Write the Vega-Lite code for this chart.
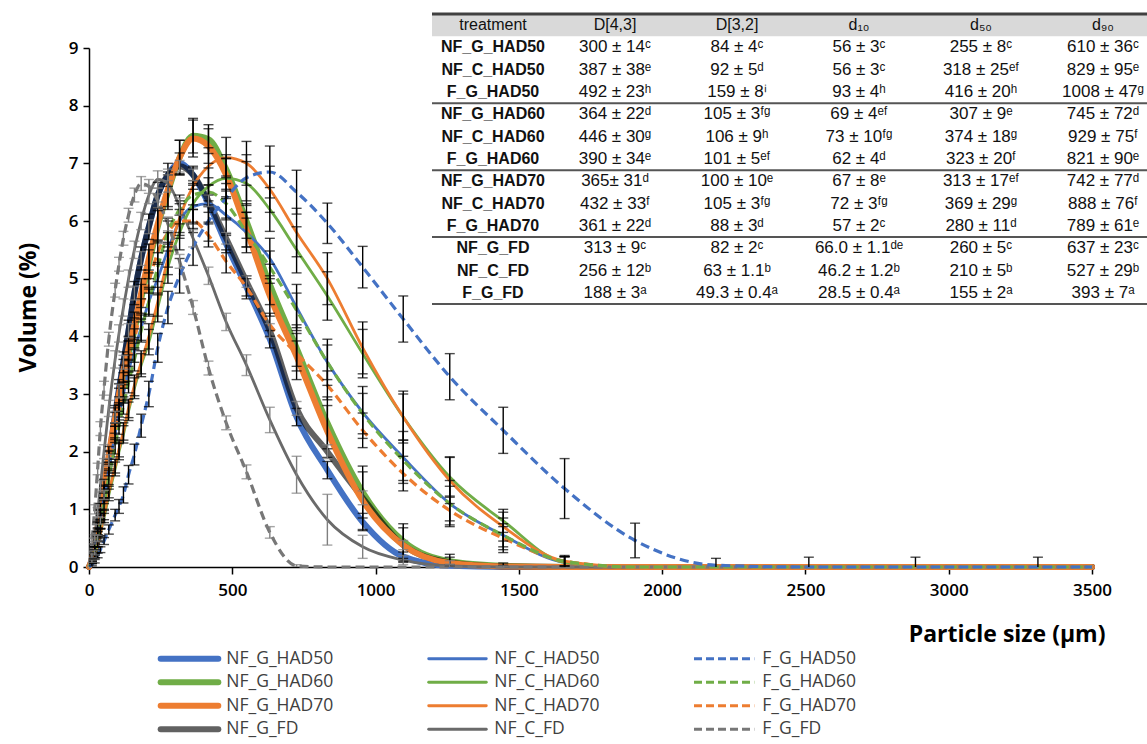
{
"$schema": "https://vega.github.io/schema/vega-lite/v6.json",
"autosize": {"type": "none"},
"width": 1003,
"height": 519,
"padding": {"left": 89, "top": 48, "right": 55, "bottom": 177},
"background": "white",
"config": {"view": {"stroke": null}, "axis": {"grid": false}, "font": "Open Sans"},
"datasets": {
"curves": [
{"s":"NF_G_HAD60","x":0,"y":0,"e":0},{"s":"NF_G_HAD60","x":10,"y":0.12,"e":0.03},{"s":"NF_G_HAD60","x":20,"y":0.3,"e":0.05},{"s":"NF_G_HAD60","x":30.2,"y":0.6,"e":0.08},{"s":"NF_G_HAD60","x":39.8,"y":0.9,"e":0.1},{"s":"NF_G_HAD60","x":52.5,"y":1.3,"e":0.12},{"s":"NF_G_HAD60","x":69.2,"y":1.85,"e":0.15},{"s":"NF_G_HAD60","x":91.2,"y":2.5,"e":0.18},{"s":"NF_G_HAD60","x":104.7,"y":2.9,"e":0.2},{"s":"NF_G_HAD60","x":120.2,"y":3.3,"e":0.2},{"s":"NF_G_HAD60","x":138,"y":3.7,"e":0.22},{"s":"NF_G_HAD60","x":158.5,"y":4.1,"e":0.22},{"s":"NF_G_HAD60","x":182,"y":4.65,"e":0.25},{"s":"NF_G_HAD60","x":208.9,"y":5.25,"e":0.25},{"s":"NF_G_HAD60","x":239.9,"y":5.9,"e":0.28},{"s":"NF_G_HAD60","x":275.4,"y":6.5,"e":0.3},{"s":"NF_G_HAD60","x":316.2,"y":7.1,"e":0.3},{"s":"NF_G_HAD60","x":363.1,"y":7.48,"e":0.3},{"s":"NF_G_HAD60","x":416.9,"y":7.42,"e":0.25},{"s":"NF_G_HAD60","x":478.6,"y":6.9,"e":0.25},{"s":"NF_G_HAD60","x":549.5,"y":6.0,"e":0.3},{"s":"NF_G_HAD60","x":631,"y":4.9,"e":0.35},{"s":"NF_G_HAD60","x":724.4,"y":3.8,"e":0.4},{"s":"NF_G_HAD60","x":831.8,"y":2.5,"e":0.45},{"s":"NF_G_HAD60","x":955,"y":1.3,"e":0.45},{"s":"NF_G_HAD60","x":1096.5,"y":0.45,"e":0.3},{"s":"NF_G_HAD60","x":1258.9,"y":0.1,"e":0.12},{"s":"NF_G_HAD60","x":1445.4,"y":0.02,"e":0.05},{"s":"NF_G_HAD60","x":1659.6,"y":0,"e":0},{"s":"NF_G_HAD60","x":3500,"y":0,"e":0},
{"s":"NF_G_HAD50","x":0,"y":0,"e":0},{"s":"NF_G_HAD50","x":10,"y":0.1,"e":0.02},{"s":"NF_G_HAD50","x":20,"y":0.25,"e":0.04},{"s":"NF_G_HAD50","x":30.2,"y":0.5,"e":0.06},{"s":"NF_G_HAD50","x":39.8,"y":0.85,"e":0.08},{"s":"NF_G_HAD50","x":52.5,"y":1.3,"e":0.1},{"s":"NF_G_HAD50","x":69.2,"y":1.9,"e":0.12},{"s":"NF_G_HAD50","x":91.2,"y":2.65,"e":0.15},{"s":"NF_G_HAD50","x":104.7,"y":3.1,"e":0.15},{"s":"NF_G_HAD50","x":120.2,"y":3.55,"e":0.18},{"s":"NF_G_HAD50","x":138,"y":4.1,"e":0.18},{"s":"NF_G_HAD50","x":158.5,"y":4.75,"e":0.2},{"s":"NF_G_HAD50","x":182,"y":5.35,"e":0.2},{"s":"NF_G_HAD50","x":208.9,"y":5.9,"e":0.22},{"s":"NF_G_HAD50","x":239.9,"y":6.45,"e":0.22},{"s":"NF_G_HAD50","x":275.4,"y":6.8,"e":0.2},{"s":"NF_G_HAD50","x":316.2,"y":7.0,"e":0.18},{"s":"NF_G_HAD50","x":363.1,"y":6.8,"e":0.15},{"s":"NF_G_HAD50","x":416.9,"y":6.3,"e":0.15},{"s":"NF_G_HAD50","x":478.6,"y":5.6,"e":0.15},{"s":"NF_G_HAD50","x":549.5,"y":4.85,"e":0.15},{"s":"NF_G_HAD50","x":631,"y":3.95,"e":0.15},{"s":"NF_G_HAD50","x":724.4,"y":2.6,"e":0.15},{"s":"NF_G_HAD50","x":831.8,"y":1.68,"e":0.15},{"s":"NF_G_HAD50","x":955,"y":0.78,"e":0.15},{"s":"NF_G_HAD50","x":1096.5,"y":0.18,"e":0.08},{"s":"NF_G_HAD50","x":1258.9,"y":0.02,"e":0.02},{"s":"NF_G_HAD50","x":1445.4,"y":0,"e":0},{"s":"NF_G_HAD50","x":3500,"y":0,"e":0},
{"s":"NF_G_FD","x":0,"y":0,"e":0},{"s":"NF_G_FD","x":10,"y":0.1,"e":0.02},{"s":"NF_G_FD","x":20,"y":0.25,"e":0.04},{"s":"NF_G_FD","x":30.2,"y":0.5,"e":0.05},{"s":"NF_G_FD","x":39.8,"y":0.8,"e":0.06},{"s":"NF_G_FD","x":52.5,"y":1.25,"e":0.08},{"s":"NF_G_FD","x":69.2,"y":1.85,"e":0.1},{"s":"NF_G_FD","x":91.2,"y":2.6,"e":0.1},{"s":"NF_G_FD","x":104.7,"y":3.05,"e":0.12},{"s":"NF_G_FD","x":120.2,"y":3.55,"e":0.12},{"s":"NF_G_FD","x":138,"y":4.1,"e":0.12},{"s":"NF_G_FD","x":158.5,"y":4.75,"e":0.12},{"s":"NF_G_FD","x":182,"y":5.35,"e":0.12},{"s":"NF_G_FD","x":208.9,"y":5.9,"e":0.12},{"s":"NF_G_FD","x":239.9,"y":6.45,"e":0.12},{"s":"NF_G_FD","x":275.4,"y":6.8,"e":0.1},{"s":"NF_G_FD","x":316.2,"y":6.95,"e":0.1},{"s":"NF_G_FD","x":363.1,"y":6.8,"e":0.1},{"s":"NF_G_FD","x":416.9,"y":6.35,"e":0.1},{"s":"NF_G_FD","x":478.6,"y":5.7,"e":0.1},{"s":"NF_G_FD","x":549.5,"y":4.95,"e":0.1},{"s":"NF_G_FD","x":631,"y":4.1,"e":0.12},{"s":"NF_G_FD","x":724.4,"y":2.75,"e":0.12},{"s":"NF_G_FD","x":831.8,"y":2.0,"e":0.12},{"s":"NF_G_FD","x":955,"y":1.2,"e":0.12},{"s":"NF_G_FD","x":1096.5,"y":0.38,"e":0.08},{"s":"NF_G_FD","x":1258.9,"y":0.08,"e":0.03},{"s":"NF_G_FD","x":1445.4,"y":0.01,"e":0.01},{"s":"NF_G_FD","x":1659.6,"y":0,"e":0},{"s":"NF_G_FD","x":3500,"y":0,"e":0},
{"s":"NF_G_HAD70","x":0,"y":0,"e":0},{"s":"NF_G_HAD70","x":10,"y":0.14,"e":0.03},{"s":"NF_G_HAD70","x":20,"y":0.35,"e":0.05},{"s":"NF_G_HAD70","x":30.2,"y":0.7,"e":0.08},{"s":"NF_G_HAD70","x":39.8,"y":1.0,"e":0.1},{"s":"NF_G_HAD70","x":52.5,"y":1.4,"e":0.12},{"s":"NF_G_HAD70","x":69.2,"y":1.95,"e":0.14},{"s":"NF_G_HAD70","x":91.2,"y":2.6,"e":0.16},{"s":"NF_G_HAD70","x":104.7,"y":3.0,"e":0.18},{"s":"NF_G_HAD70","x":120.2,"y":3.4,"e":0.2},{"s":"NF_G_HAD70","x":138,"y":3.8,"e":0.2},{"s":"NF_G_HAD70","x":158.5,"y":4.2,"e":0.22},{"s":"NF_G_HAD70","x":182,"y":4.75,"e":0.25},{"s":"NF_G_HAD70","x":208.9,"y":5.35,"e":0.25},{"s":"NF_G_HAD70","x":239.9,"y":5.95,"e":0.28},{"s":"NF_G_HAD70","x":275.4,"y":6.55,"e":0.3},{"s":"NF_G_HAD70","x":316.2,"y":7.1,"e":0.3},{"s":"NF_G_HAD70","x":363.1,"y":7.43,"e":0.32},{"s":"NF_G_HAD70","x":416.9,"y":7.3,"e":0.3},{"s":"NF_G_HAD70","x":478.6,"y":6.8,"e":0.28},{"s":"NF_G_HAD70","x":549.5,"y":5.85,"e":0.3},{"s":"NF_G_HAD70","x":631,"y":4.7,"e":0.35},{"s":"NF_G_HAD70","x":724.4,"y":3.65,"e":0.4},{"s":"NF_G_HAD70","x":831.8,"y":2.35,"e":0.45},{"s":"NF_G_HAD70","x":955,"y":1.15,"e":0.5},{"s":"NF_G_HAD70","x":1096.5,"y":0.38,"e":0.3},{"s":"NF_G_HAD70","x":1258.9,"y":0.07,"e":0.1},{"s":"NF_G_HAD70","x":1445.4,"y":0.01,"e":0.02},{"s":"NF_G_HAD70","x":1659.6,"y":0,"e":0},{"s":"NF_G_HAD70","x":3500,"y":0,"e":0},
{"s":"NF_C_FD","x":0,"y":0,"e":0},{"s":"NF_C_FD","x":10,"y":0.2,"e":0.04},{"s":"NF_C_FD","x":20,"y":0.5,"e":0.06},{"s":"NF_C_FD","x":30.2,"y":0.95,"e":0.08},{"s":"NF_C_FD","x":39.8,"y":1.4,"e":0.1},{"s":"NF_C_FD","x":52.5,"y":2.0,"e":0.12},{"s":"NF_C_FD","x":69.2,"y":2.75,"e":0.14},{"s":"NF_C_FD","x":91.2,"y":3.6,"e":0.15},{"s":"NF_C_FD","x":104.7,"y":4.05,"e":0.15},{"s":"NF_C_FD","x":120.2,"y":4.5,"e":0.15},{"s":"NF_C_FD","x":138,"y":5.0,"e":0.15},{"s":"NF_C_FD","x":158.5,"y":5.5,"e":0.15},{"s":"NF_C_FD","x":182,"y":6.0,"e":0.15},{"s":"NF_C_FD","x":208.9,"y":6.45,"e":0.15},{"s":"NF_C_FD","x":239.9,"y":6.72,"e":0.15},{"s":"NF_C_FD","x":275.4,"y":6.65,"e":0.15},{"s":"NF_C_FD","x":316.2,"y":6.25,"e":0.15},{"s":"NF_C_FD","x":363.1,"y":5.7,"e":0.15},{"s":"NF_C_FD","x":416.9,"y":5.05,"e":0.15},{"s":"NF_C_FD","x":478.6,"y":4.25,"e":0.15},{"s":"NF_C_FD","x":549.5,"y":3.5,"e":0.18},{"s":"NF_C_FD","x":631,"y":2.55,"e":0.22},{"s":"NF_C_FD","x":724.4,"y":1.6,"e":0.32},{"s":"NF_C_FD","x":831.8,"y":0.82,"e":0.44},{"s":"NF_C_FD","x":955,"y":0.35,"e":0.2},{"s":"NF_C_FD","x":1096.5,"y":0.12,"e":0.08},{"s":"NF_C_FD","x":1258.9,"y":0.02,"e":0.02},{"s":"NF_C_FD","x":1445.4,"y":0,"e":0},{"s":"NF_C_FD","x":3500,"y":0,"e":0},
{"s":"NF_C_HAD50","x":0,"y":0,"e":0},{"s":"NF_C_HAD50","x":10,"y":0.12,"e":0.03},{"s":"NF_C_HAD50","x":20,"y":0.3,"e":0.05},{"s":"NF_C_HAD50","x":30.2,"y":0.55,"e":0.06},{"s":"NF_C_HAD50","x":39.8,"y":0.85,"e":0.08},{"s":"NF_C_HAD50","x":52.5,"y":1.2,"e":0.1},{"s":"NF_C_HAD50","x":69.2,"y":1.7,"e":0.12},{"s":"NF_C_HAD50","x":91.2,"y":2.3,"e":0.14},{"s":"NF_C_HAD50","x":104.7,"y":2.65,"e":0.15},{"s":"NF_C_HAD50","x":120.2,"y":3.0,"e":0.16},{"s":"NF_C_HAD50","x":138,"y":3.4,"e":0.18},{"s":"NF_C_HAD50","x":158.5,"y":3.75,"e":0.2},{"s":"NF_C_HAD50","x":182,"y":4.15,"e":0.22},{"s":"NF_C_HAD50","x":208.9,"y":4.6,"e":0.25},{"s":"NF_C_HAD50","x":239.9,"y":5.0,"e":0.28},{"s":"NF_C_HAD50","x":275.4,"y":5.5,"e":0.3},{"s":"NF_C_HAD50","x":316.2,"y":6.0,"e":0.3},{"s":"NF_C_HAD50","x":363.1,"y":6.25,"e":0.3},{"s":"NF_C_HAD50","x":416.9,"y":6.3,"e":0.32},{"s":"NF_C_HAD50","x":478.6,"y":6.1,"e":0.32},{"s":"NF_C_HAD50","x":549.5,"y":5.8,"e":0.35},{"s":"NF_C_HAD50","x":631,"y":5.35,"e":0.35},{"s":"NF_C_HAD50","x":724.4,"y":4.5,"e":0.4},{"s":"NF_C_HAD50","x":831.8,"y":3.55,"e":0.4},{"s":"NF_C_HAD50","x":955,"y":2.68,"e":0.45},{"s":"NF_C_HAD50","x":1096.5,"y":1.9,"e":0.45},{"s":"NF_C_HAD50","x":1258.9,"y":1.1,"e":0.4},{"s":"NF_C_HAD50","x":1445.4,"y":0.55,"e":0.3},{"s":"NF_C_HAD50","x":1659.6,"y":0.08,"e":0.1},{"s":"NF_C_HAD50","x":1905.5,"y":0,"e":0},{"s":"NF_C_HAD50","x":3500,"y":0,"e":0},
{"s":"NF_C_HAD60","x":0,"y":0,"e":0},{"s":"NF_C_HAD60","x":10,"y":0.08,"e":0.02},{"s":"NF_C_HAD60","x":20,"y":0.2,"e":0.04},{"s":"NF_C_HAD60","x":30.2,"y":0.4,"e":0.05},{"s":"NF_C_HAD60","x":39.8,"y":0.6,"e":0.06},{"s":"NF_C_HAD60","x":52.5,"y":0.85,"e":0.08},{"s":"NF_C_HAD60","x":69.2,"y":1.25,"e":0.1},{"s":"NF_C_HAD60","x":91.2,"y":1.7,"e":0.12},{"s":"NF_C_HAD60","x":104.7,"y":2.0,"e":0.14},{"s":"NF_C_HAD60","x":120.2,"y":2.3,"e":0.15},{"s":"NF_C_HAD60","x":138,"y":2.7,"e":0.16},{"s":"NF_C_HAD60","x":158.5,"y":3.1,"e":0.18},{"s":"NF_C_HAD60","x":182,"y":3.5,"e":0.2},{"s":"NF_C_HAD60","x":208.9,"y":3.9,"e":0.22},{"s":"NF_C_HAD60","x":239.9,"y":4.5,"e":0.25},{"s":"NF_C_HAD60","x":275.4,"y":5.2,"e":0.28},{"s":"NF_C_HAD60","x":316.2,"y":5.8,"e":0.3},{"s":"NF_C_HAD60","x":363.1,"y":6.3,"e":0.32},{"s":"NF_C_HAD60","x":416.9,"y":6.6,"e":0.32},{"s":"NF_C_HAD60","x":478.6,"y":6.74,"e":0.35},{"s":"NF_C_HAD60","x":549.5,"y":6.65,"e":0.38},{"s":"NF_C_HAD60","x":631,"y":6.2,"e":0.38},{"s":"NF_C_HAD60","x":724.4,"y":5.5,"e":0.4},{"s":"NF_C_HAD60","x":831.8,"y":4.7,"e":0.42},{"s":"NF_C_HAD60","x":955,"y":3.7,"e":0.42},{"s":"NF_C_HAD60","x":1096.5,"y":2.6,"e":0.4},{"s":"NF_C_HAD60","x":1258.9,"y":1.56,"e":0.35},{"s":"NF_C_HAD60","x":1445.4,"y":0.8,"e":0.2},{"s":"NF_C_HAD60","x":1659.6,"y":0.08,"e":0.1},{"s":"NF_C_HAD60","x":1905.5,"y":0,"e":0},{"s":"NF_C_HAD60","x":3500,"y":0,"e":0},
{"s":"NF_C_HAD70","x":0,"y":0,"e":0},{"s":"NF_C_HAD70","x":10,"y":0.08,"e":0.02},{"s":"NF_C_HAD70","x":20,"y":0.2,"e":0.04},{"s":"NF_C_HAD70","x":30.2,"y":0.4,"e":0.05},{"s":"NF_C_HAD70","x":39.8,"y":0.6,"e":0.06},{"s":"NF_C_HAD70","x":52.5,"y":0.9,"e":0.08},{"s":"NF_C_HAD70","x":69.2,"y":1.3,"e":0.1},{"s":"NF_C_HAD70","x":91.2,"y":1.75,"e":0.12},{"s":"NF_C_HAD70","x":104.7,"y":2.05,"e":0.14},{"s":"NF_C_HAD70","x":120.2,"y":2.35,"e":0.15},{"s":"NF_C_HAD70","x":138,"y":2.75,"e":0.16},{"s":"NF_C_HAD70","x":158.5,"y":3.15,"e":0.18},{"s":"NF_C_HAD70","x":182,"y":3.55,"e":0.2},{"s":"NF_C_HAD70","x":208.9,"y":4.0,"e":0.22},{"s":"NF_C_HAD70","x":239.9,"y":4.6,"e":0.25},{"s":"NF_C_HAD70","x":275.4,"y":5.35,"e":0.28},{"s":"NF_C_HAD70","x":316.2,"y":6.05,"e":0.3},{"s":"NF_C_HAD70","x":363.1,"y":6.6,"e":0.32},{"s":"NF_C_HAD70","x":416.9,"y":6.95,"e":0.32},{"s":"NF_C_HAD70","x":478.6,"y":7.1,"e":0.35},{"s":"NF_C_HAD70","x":549.5,"y":7.0,"e":0.38},{"s":"NF_C_HAD70","x":631,"y":6.55,"e":0.4},{"s":"NF_C_HAD70","x":724.4,"y":5.8,"e":0.42},{"s":"NF_C_HAD70","x":831.8,"y":5.0,"e":0.45},{"s":"NF_C_HAD70","x":955,"y":3.8,"e":0.45},{"s":"NF_C_HAD70","x":1096.5,"y":2.6,"e":0.45},{"s":"NF_C_HAD70","x":1258.9,"y":1.5,"e":0.4},{"s":"NF_C_HAD70","x":1445.4,"y":0.7,"e":0.25},{"s":"NF_C_HAD70","x":1659.6,"y":0.1,"e":0.1},{"s":"NF_C_HAD70","x":1905.5,"y":0,"e":0},{"s":"NF_C_HAD70","x":3500,"y":0,"e":0},
{"s":"F_G_FD","x":0,"y":0,"e":0},{"s":"F_G_FD","x":10,"y":0.45,"e":0.05},{"s":"F_G_FD","x":20,"y":1.0,"e":0.08},{"s":"F_G_FD","x":30.2,"y":1.7,"e":0.1},{"s":"F_G_FD","x":39.8,"y":2.4,"e":0.12},{"s":"F_G_FD","x":52.5,"y":3.1,"e":0.12},{"s":"F_G_FD","x":69.2,"y":3.95,"e":0.12},{"s":"F_G_FD","x":91.2,"y":4.8,"e":0.12},{"s":"F_G_FD","x":104.7,"y":5.25,"e":0.12},{"s":"F_G_FD","x":120.2,"y":5.7,"e":0.12},{"s":"F_G_FD","x":138,"y":6.1,"e":0.12},{"s":"F_G_FD","x":158.5,"y":6.45,"e":0.12},{"s":"F_G_FD","x":182,"y":6.65,"e":0.12},{"s":"F_G_FD","x":208.9,"y":6.6,"e":0.12},{"s":"F_G_FD","x":239.9,"y":6.35,"e":0.12},{"s":"F_G_FD","x":275.4,"y":5.95,"e":0.12},{"s":"F_G_FD","x":316.2,"y":5.3,"e":0.12},{"s":"F_G_FD","x":363.1,"y":4.5,"e":0.12},{"s":"F_G_FD","x":416.9,"y":3.45,"e":0.12},{"s":"F_G_FD","x":478.6,"y":2.5,"e":0.12},{"s":"F_G_FD","x":549.5,"y":1.65,"e":0.12},{"s":"F_G_FD","x":631,"y":0.6,"e":0.1},{"s":"F_G_FD","x":724.4,"y":0.02,"e":0.02},{"s":"F_G_FD","x":831.8,"y":0,"e":0},{"s":"F_G_FD","x":3500,"y":0,"e":0},
{"s":"F_G_HAD70","x":0,"y":0,"e":0},{"s":"F_G_HAD70","x":10,"y":0.12,"e":0.03},{"s":"F_G_HAD70","x":20,"y":0.3,"e":0.05},{"s":"F_G_HAD70","x":30.2,"y":0.6,"e":0.06},{"s":"F_G_HAD70","x":39.8,"y":0.9,"e":0.08},{"s":"F_G_HAD70","x":52.5,"y":1.25,"e":0.1},{"s":"F_G_HAD70","x":69.2,"y":1.75,"e":0.12},{"s":"F_G_HAD70","x":91.2,"y":2.35,"e":0.14},{"s":"F_G_HAD70","x":104.7,"y":2.7,"e":0.15},{"s":"F_G_HAD70","x":120.2,"y":3.05,"e":0.16},{"s":"F_G_HAD70","x":138,"y":3.5,"e":0.18},{"s":"F_G_HAD70","x":158.5,"y":3.95,"e":0.18},{"s":"F_G_HAD70","x":182,"y":4.45,"e":0.2},{"s":"F_G_HAD70","x":208.9,"y":4.95,"e":0.2},{"s":"F_G_HAD70","x":239.9,"y":5.45,"e":0.2},{"s":"F_G_HAD70","x":275.4,"y":5.8,"e":0.2},{"s":"F_G_HAD70","x":316.2,"y":6.0,"e":0.2},{"s":"F_G_HAD70","x":363.1,"y":6.0,"e":0.2},{"s":"F_G_HAD70","x":416.9,"y":5.75,"e":0.2},{"s":"F_G_HAD70","x":478.6,"y":5.3,"e":0.2},{"s":"F_G_HAD70","x":549.5,"y":4.85,"e":0.2},{"s":"F_G_HAD70","x":631,"y":4.2,"e":0.2},{"s":"F_G_HAD70","x":724.4,"y":3.7,"e":0.22},{"s":"F_G_HAD70","x":831.8,"y":3.15,"e":0.25},{"s":"F_G_HAD70","x":955,"y":2.37,"e":0.3},{"s":"F_G_HAD70","x":1096.5,"y":1.62,"e":0.3},{"s":"F_G_HAD70","x":1258.9,"y":0.98,"e":0.25},{"s":"F_G_HAD70","x":1445.4,"y":0.5,"e":0.2},{"s":"F_G_HAD70","x":1659.6,"y":0.1,"e":0.08},{"s":"F_G_HAD70","x":1905.5,"y":0,"e":0},{"s":"F_G_HAD70","x":3500,"y":0,"e":0},
{"s":"F_G_HAD60","x":0,"y":0,"e":0},{"s":"F_G_HAD60","x":10,"y":0.1,"e":0.03},{"s":"F_G_HAD60","x":20,"y":0.25,"e":0.05},{"s":"F_G_HAD60","x":30.2,"y":0.5,"e":0.06},{"s":"F_G_HAD60","x":39.8,"y":0.75,"e":0.08},{"s":"F_G_HAD60","x":52.5,"y":1.1,"e":0.1},{"s":"F_G_HAD60","x":69.2,"y":1.55,"e":0.12},{"s":"F_G_HAD60","x":91.2,"y":2.1,"e":0.14},{"s":"F_G_HAD60","x":104.7,"y":2.45,"e":0.15},{"s":"F_G_HAD60","x":120.2,"y":2.8,"e":0.15},{"s":"F_G_HAD60","x":138,"y":3.2,"e":0.18},{"s":"F_G_HAD60","x":158.5,"y":3.6,"e":0.2},{"s":"F_G_HAD60","x":182,"y":4.1,"e":0.2},{"s":"F_G_HAD60","x":208.9,"y":4.6,"e":0.22},{"s":"F_G_HAD60","x":239.9,"y":5.2,"e":0.25},{"s":"F_G_HAD60","x":275.4,"y":5.8,"e":0.25},{"s":"F_G_HAD60","x":316.2,"y":6.2,"e":0.25},{"s":"F_G_HAD60","x":363.1,"y":6.45,"e":0.25},{"s":"F_G_HAD60","x":416.9,"y":6.5,"e":0.25},{"s":"F_G_HAD60","x":478.6,"y":6.3,"e":0.25},{"s":"F_G_HAD60","x":549.5,"y":5.8,"e":0.25},{"s":"F_G_HAD60","x":631,"y":5.2,"e":0.28},{"s":"F_G_HAD60","x":724.4,"y":4.45,"e":0.3},{"s":"F_G_HAD60","x":831.8,"y":3.55,"e":0.3},{"s":"F_G_HAD60","x":955,"y":2.66,"e":0.35},{"s":"F_G_HAD60","x":1096.5,"y":1.85,"e":0.35},{"s":"F_G_HAD60","x":1258.9,"y":1.1,"e":0.3},{"s":"F_G_HAD60","x":1445.4,"y":0.55,"e":0.2},{"s":"F_G_HAD60","x":1659.6,"y":0.1,"e":0.08},{"s":"F_G_HAD60","x":1905.5,"y":0,"e":0},{"s":"F_G_HAD60","x":3500,"y":0,"e":0},
{"s":"F_G_HAD50","x":0,"y":0,"e":0},{"s":"F_G_HAD50","x":10,"y":0.04,"e":0.02},{"s":"F_G_HAD50","x":20,"y":0.1,"e":0.03},{"s":"F_G_HAD50","x":30.2,"y":0.2,"e":0.04},{"s":"F_G_HAD50","x":39.8,"y":0.3,"e":0.05},{"s":"F_G_HAD50","x":52.5,"y":0.45,"e":0.06},{"s":"F_G_HAD50","x":69.2,"y":0.65,"e":0.08},{"s":"F_G_HAD50","x":91.2,"y":0.9,"e":0.1},{"s":"F_G_HAD50","x":104.7,"y":1.05,"e":0.12},{"s":"F_G_HAD50","x":120.2,"y":1.25,"e":0.14},{"s":"F_G_HAD50","x":138,"y":1.6,"e":0.16},{"s":"F_G_HAD50","x":158.5,"y":1.95,"e":0.18},{"s":"F_G_HAD50","x":182,"y":2.45,"e":0.2},{"s":"F_G_HAD50","x":208.9,"y":3.0,"e":0.22},{"s":"F_G_HAD50","x":239.9,"y":3.8,"e":0.25},{"s":"F_G_HAD50","x":275.4,"y":4.5,"e":0.28},{"s":"F_G_HAD50","x":316.2,"y":5.05,"e":0.3},{"s":"F_G_HAD50","x":363.1,"y":5.55,"e":0.32},{"s":"F_G_HAD50","x":416.9,"y":6.0,"e":0.35},{"s":"F_G_HAD50","x":478.6,"y":6.4,"e":0.38},{"s":"F_G_HAD50","x":549.5,"y":6.75,"e":0.4},{"s":"F_G_HAD50","x":631,"y":6.85,"e":0.45},{"s":"F_G_HAD50","x":724.4,"y":6.5,"e":0.38},{"s":"F_G_HAD50","x":831.8,"y":5.96,"e":0.35},{"s":"F_G_HAD50","x":955,"y":5.2,"e":0.36},{"s":"F_G_HAD50","x":1096.5,"y":4.3,"e":0.4},{"s":"F_G_HAD50","x":1258.9,"y":3.3,"e":0.4},{"s":"F_G_HAD50","x":1445.4,"y":2.37,"e":0.4},{"s":"F_G_HAD50","x":1659.6,"y":1.36,"e":0.52},{"s":"F_G_HAD50","x":1905.5,"y":0.46,"e":0.3},{"s":"F_G_HAD50","x":2187.8,"y":0.03,"e":0.12},{"s":"F_G_HAD50","x":2511.9,"y":0,"e":0.17},{"s":"F_G_HAD50","x":2884,"y":0,"e":0.17},{"s":"F_G_HAD50","x":3311.3,"y":0,"e":0.17},{"s":"F_G_HAD50","x":3500,"y":0,"e":0}
],
"table": [
{"treatment":"NF_G_HAD50","D43":"300 ± 14ᶜ","D32":"84 ± 4ᶜ","d10":"56 ± 3ᶜ","d50":"255 ± 8ᶜ","d90":"610 ± 36ᶜ"},
{"treatment":"NF_C_HAD50","D43":"387 ± 38ᵉ","D32":"92 ± 5ᵈ","d10":"56 ± 3ᶜ","d50":"318 ± 25ᵉᶠ","d90":"829 ± 95ᵉ"},
{"treatment":"F_G_HAD50","D43":"492 ± 23ʰ","D32":"159 ± 8ⁱ","d10":"93 ± 4ʰ","d50":"416 ± 20ʰ","d90":"1008 ± 47ᵍ"},
{"treatment":"NF_G_HAD60","D43":"364 ± 22ᵈ","D32":"105 ± 3ᶠᵍ","d10":"69 ± 4ᵉᶠ","d50":"307 ± 9ᵉ","d90":"745 ± 72ᵈ"},
{"treatment":"NF_C_HAD60","D43":"446 ± 30ᵍ","D32":"106 ± 9ʰ","d10":"73 ± 10ᶠᵍ","d50":"374 ± 18ᵍ","d90":"929 ± 75ᶠ"},
{"treatment":"F_G_HAD60","D43":"390 ± 34ᵉ","D32":"101 ± 5ᵉᶠ","d10":"62 ± 4ᵈ","d50":"323 ± 20ᶠ","d90":"821 ± 90ᵉ"},
{"treatment":"NF_G_HAD70","D43":"365± 31ᵈ","D32":"100 ± 10ᵉ","d10":"67 ± 8ᵉ","d50":"313 ± 17ᵉᶠ","d90":"742 ± 77ᵈ"},
{"treatment":"NF_C_HAD70","D43":"432 ± 33ᶠ","D32":"105 ± 3ᶠᵍ","d10":"72 ± 3ᶠᵍ","d50":"369 ± 29ᵍ","d90":"888 ± 76ᶠ"},
{"treatment":"F_G_HAD70","D43":"361 ± 22ᵈ","D32":"88 ± 3ᵈ","d10":"57 ± 2ᶜ","d50":"280 ± 11ᵈ","d90":"789 ± 61ᵉ"},
{"treatment":"NF_G_FD","D43":"313 ± 9ᶜ","D32":"82 ± 2ᶜ","d10":"66.0 ± 1.1ᵈᵉ","d50":"260 ± 5ᶜ","d90":"637 ± 23ᶜ"},
{"treatment":"NF_C_FD","D43":"256 ± 12ᵇ","D32":"63 ± 1.1ᵇ","d10":"46.2 ± 1.2ᵇ","d50":"210 ± 5ᵇ","d90":"527 ± 29ᵇ"},
{"treatment":"F_G_FD","D43":"188 ± 3ᵃ","D32":"49.3 ± 0.4ᵃ","d10":"28.5 ± 0.4ᵃ","d50":"155 ± 2ᵃ","d90":"393 ± 7ᵃ"}
],
"heads": [
{"c":"treatment","t":"treatment"},{"c":"D43","t":"D[4,3]"},{"c":"D32","t":"D[3,2]"},{"c":"d10","t":"d₁₀"},{"c":"d50","t":"d₅₀"},{"c":"d90","t":"d₉₀"}
],
"seps": [{"r":"NF_G_HAD60"},{"r":"NF_G_HAD70"},{"r":"NF_G_FD"}],
"leg": [
{"s":"NF_G_HAD50","f":"NF_G","g":"HAD50"},{"s":"NF_C_HAD50","f":"NF_C","g":"HAD50"},{"s":"F_G_HAD50","f":"F_G","g":"HAD50"},
{"s":"NF_G_HAD60","f":"NF_G","g":"HAD60"},{"s":"NF_C_HAD60","f":"NF_C","g":"HAD60"},{"s":"F_G_HAD60","f":"F_G","g":"HAD60"},
{"s":"NF_G_HAD70","f":"NF_G","g":"HAD70"},{"s":"NF_C_HAD70","f":"NF_C","g":"HAD70"},{"s":"F_G_HAD70","f":"F_G","g":"HAD70"},
{"s":"NF_G_FD","f":"NF_G","g":"FD"},{"s":"NF_C_FD","f":"NF_C","g":"FD"},{"s":"F_G_FD","f":"F_G","g":"FD"}
]
},
"layer": [
{
"data": {"name": "curves"},
"encoding": {
"x": {"field": "x", "type": "quantitative", "scale": {"domain": [0, 3500], "nice": false}, "axis": {"orient": "bottom", "title": "Particle size (µm)", "values": [0,500,1000,1500,2000,2500,3000,3500], "format": "d", "labelFontSize": 17, "labelFontWeight": 600, "labelColor": "#000", "labelFont": "Open Sans", "labelPadding": 8, "labelFlush": false, "tickSize": 7, "tickColor": "#000", "tickWidth": 1.5, "domainColor": "#000", "domainWidth": 1.5, "titleFontSize": 23, "titleFontWeight": "bold", "titleFont": "Open Sans", "titleColor": "#000", "titleAnchor": "end", "titleAlign": "right", "titleX": 1016, "titleY": 56, "titleBaseline": "top"}},
"y": {"field": "y", "type": "quantitative", "scale": {"domain": [0, 9], "nice": false}, "axis": {"orient": "left", "title": "Volume (%)", "values": [0,1,2,3,4,5,6,7,8,9], "format": "d", "labelFontSize": 17, "labelFontWeight": 600, "labelColor": "#000", "labelFont": "Open Sans", "labelPadding": 5, "tickSize": 6, "tickColor": "#000", "tickWidth": 1.5, "domainColor": "#000", "domainWidth": 1.5, "titleFontSize": 23, "titleFontWeight": "bold", "titleFont": "Open Sans", "titleColor": "#000", "titleX": -61, "titleY": 259, "titleAngle": -90, "titleAlign": "center", "titleBaseline": "middle"}}
},
"layer": [
{
"transform": [{"filter": {"field": "s", "oneOf": ["NF_G_HAD50","NF_G_HAD60"]}}],
"mark": {"type": "line", "interpolate": "monotone", "strokeJoin": "round", "strokeCap": "round", "strokeWidth": 6},
"encoding": {
"color": {"field": "s", "type": "nominal", "legend": null, "scale": {"domain": ["NF_G_HAD50","NF_C_HAD50","F_G_HAD50","NF_G_HAD60","NF_C_HAD60","F_G_HAD60","NF_G_HAD70","NF_C_HAD70","F_G_HAD70","NF_G_FD","NF_C_FD","F_G_FD"], "range": ["#4472C4","#4472C4","#4472C4","#70AD47","#70AD47","#70AD47","#ED7D31","#ED7D31","#ED7D31","#000000","#6a6a6a","#777777"]}}
}
},
{
"transform": [{"filter": {"field": "s", "equal": "NF_G_FD"}}],
"mark": {"type": "line", "interpolate": "monotone", "strokeJoin": "round", "strokeCap": "round", "strokeWidth": 6, "opacity": 0.62},
"encoding": {"color": {"field": "s", "type": "nominal", "legend": null}}
},
{
"transform": [{"filter": {"field": "s", "equal": "NF_G_HAD70"}}],
"mark": {"type": "line", "interpolate": "monotone", "strokeJoin": "round", "strokeCap": "round", "strokeWidth": 6},
"encoding": {"color": {"field": "s", "type": "nominal", "legend": null}}
},
{
"transform": [{"filter": {"field": "s", "oneOf": ["NF_C_HAD50","NF_C_HAD60","NF_C_HAD70","NF_C_FD"]}}],
"mark": {"type": "line", "interpolate": "monotone", "strokeJoin": "round", "strokeCap": "round", "strokeWidth": 2.8},
"encoding": {"color": {"field": "s", "type": "nominal", "legend": null}}
},
{
"transform": [{"filter": {"field": "s", "oneOf": ["F_G_HAD50","F_G_HAD60","F_G_HAD70","F_G_FD"]}}],
"mark": {"type": "line", "interpolate": "monotone", "strokeJoin": "round", "strokeWidth": 3.2, "strokeDash": [9, 5]},
"encoding": {"color": {"field": "s", "type": "nominal", "legend": null}}
},
{
"transform": [{"filter": "datum.e > 0"}, {"filter": {"not": {"field": "s", "oneOf": ["NF_G_FD","NF_C_FD","F_G_FD"]}}}],
"mark": {"type": "errorbar", "ticks": true, "size": 10, "thickness": 1.4, "color": "#000", "clip": true},
"encoding": {
"y": {"field": "y", "type": "quantitative", "title": "Volume (%)"},
"yError": {"field": "e"}
}
},
{
"transform": [{"filter": "datum.e > 0"}, {"filter": {"field": "s", "oneOf": ["NF_G_FD","NF_C_FD","F_G_FD"]}}],
"mark": {"type": "errorbar", "ticks": true, "size": 10, "thickness": 1.4, "color": "#7f7f7f", "clip": true},
"encoding": {
"y": {"field": "y", "type": "quantitative", "title": "Volume (%)"},
"yError": {"field": "e"}
}
}
]
},
{
"layer": [
{
"data": {"values": [{"r": "header"}]},
"mark": {"type": "rect", "color": "#d9d9d9"},
"encoding": {
"x": {"datum": "treatment", "type": "nominal", "bandPosition": 0, "scale": {"type": "band", "domain": ["treatment","D43","D32","d10","d50","d90"], "range": [343, 1075], "paddingInner": 0, "paddingOuter": 0}, "axis": null},
"x2": {"datum": "d90", "bandPosition": 1},
"y": {"field": "r", "type": "nominal", "scale": {"type": "band", "domain": ["header","NF_G_HAD50","NF_C_HAD50","F_G_HAD50","NF_G_HAD60","NF_C_HAD60","F_G_HAD60","NF_G_HAD70","NF_C_HAD70","F_G_HAD70","NF_G_FD","NF_C_FD","F_G_FD"], "range": [-34, 256], "paddingInner": 0, "paddingOuter": 0}, "axis": null}
}
},
{
"data": {"values": [{"r": "header"}]},
"mark": {"type": "rule", "color": "#404040", "strokeWidth": 3},
"encoding": {
"x": {"datum": "treatment", "type": "nominal", "bandPosition": 0, "axis": null},
"x2": {"datum": "d90", "bandPosition": 1},
"y": {"field": "r", "type": "nominal", "bandPosition": 0, "axis": null}
}
},
{
"data": {"name": "seps"},
"mark": {"type": "rule", "color": "#555555", "strokeWidth": 2},
"encoding": {
"x": {"datum": "treatment", "type": "nominal", "bandPosition": 0, "axis": null},
"x2": {"datum": "d90", "bandPosition": 1},
"y": {"field": "r", "type": "nominal", "bandPosition": 0, "axis": null}
}
},
{
"data": {"values": [{"r": "F_G_FD"}]},
"mark": {"type": "rule", "color": "#555555", "strokeWidth": 2},
"encoding": {
"x": {"datum": "treatment", "type": "nominal", "bandPosition": 0, "axis": null},
"x2": {"datum": "d90", "bandPosition": 1},
"y": {"field": "r", "type": "nominal", "bandPosition": 1, "axis": null}
}
},
{
"data": {"name": "heads"},
"mark": {"type": "text", "fontSize": 16, "font": "Liberation Sans", "color": "#111111", "baseline": "middle"},
"encoding": {
"x": {"field": "c", "type": "nominal", "axis": null},
"y": {"datum": "header", "type": "nominal", "axis": null},
"text": {"field": "t"}
}
},
{
"data": {"name": "table"},
"mark": {"type": "text", "fontSize": 16, "fontWeight": "bold", "font": "Liberation Sans", "color": "#111111", "baseline": "middle"},
"encoding": {
"x": {"datum": "treatment", "type": "nominal", "axis": null},
"y": {"field": "treatment", "type": "nominal", "axis": null},
"text": {"field": "treatment"}
}
},
{
"data": {"name": "table"},
"transform": [{"fold": ["D43","D32","d10","d50","d90"], "as": ["c","v"]}],
"mark": {"type": "text", "fontSize": 17, "font": "Liberation Sans", "color": "#111111", "baseline": "middle"},
"encoding": {
"x": {"field": "c", "type": "nominal", "axis": null},
"y": {"field": "treatment", "type": "nominal", "axis": null},
"text": {"field": "v"}
}
}
]
},
{
"data": {"name": "leg"},
"layer": [
{
"transform": [{"filter": "datum.f === 'NF_G' && datum.g !== 'FD'"}],
"mark": {"type": "rule", "strokeWidth": 6, "strokeCap": "round"},
"encoding": {
"x": {"datum": "NF_G", "type": "nominal", "bandPosition": 0.01, "scale": {"type": "band", "domain": ["NF_G","NF_C","F_G"], "range": [69, 873], "paddingInner": 0, "paddingOuter": 0}, "axis": null},
"x2": {"datum": "NF_G", "bandPosition": 0.225},
"y": {"field": "g", "type": "nominal", "bandPosition": 0.5, "scale": {"type": "band", "domain": ["HAD50","HAD60","HAD70","FD"], "range": [599, 693], "paddingInner": 0, "paddingOuter": 0}, "axis": null},
"color": {"field": "s", "type": "nominal", "legend": null}
}
},
{
"transform": [{"filter": "datum.s === 'NF_G_FD'"}],
"mark": {"type": "rule", "strokeWidth": 6, "strokeCap": "round", "opacity": 0.62},
"encoding": {
"x": {"datum": "NF_G", "type": "nominal", "bandPosition": 0.01, "axis": null},
"x2": {"datum": "NF_G", "bandPosition": 0.225},
"y": {"field": "g", "type": "nominal", "bandPosition": 0.5, "axis": null},
"color": {"field": "s", "type": "nominal", "legend": null}
}
},
{
"transform": [{"filter": "datum.f === 'NF_C'"}],
"mark": {"type": "rule", "strokeWidth": 2.8, "strokeCap": "round"},
"encoding": {
"x": {"datum": "NF_C", "type": "nominal", "bandPosition": 0.01, "axis": null},
"x2": {"datum": "NF_C", "bandPosition": 0.225},
"y": {"field": "g", "type": "nominal", "bandPosition": 0.5, "axis": null},
"color": {"field": "s", "type": "nominal", "legend": null}
}
},
{
"transform": [{"filter": "datum.f === 'F_G'"}],
"mark": {"type": "rule", "strokeWidth": 3.2, "strokeDash": [8, 4]},
"encoding": {
"x": {"datum": "F_G", "type": "nominal", "bandPosition": 0, "axis": null},
"x2": {"datum": "F_G", "bandPosition": 0.225},
"y": {"field": "g", "type": "nominal", "bandPosition": 0.5, "axis": null},
"color": {"field": "s", "type": "nominal", "legend": null}
}
},
{
"mark": {"type": "text", "fontSize": 17.5, "font": "Open Sans", "color": "#404040", "align": "left", "baseline": "middle"},
"encoding": {
"x": {"field": "f", "type": "nominal", "bandPosition": 0.255, "axis": null},
"y": {"field": "g", "type": "nominal", "bandPosition": 0.5, "axis": null},
"text": {"field": "s"}
}
}
]
}
],
"resolve": {"scale": {"x": "independent", "y": "independent"}}
}
